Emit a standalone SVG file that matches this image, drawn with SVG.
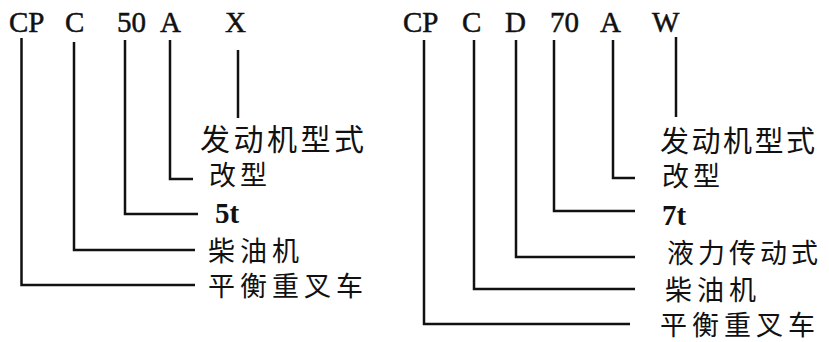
<svg xmlns="http://www.w3.org/2000/svg" width="829" height="342" viewBox="0 0 829 342">
<style>
.code{font-family:"Liberation Serif","Times New Roman",serif;font-size:29px;fill:#111;stroke:#111;stroke-width:0.5}
.unit{font-family:"Liberation Serif","Times New Roman",serif;font-size:29px;font-weight:bold;fill:#111}
.cn{font-family:"Noto Sans CJK SC","Noto Sans",sans-serif;font-size:27px;fill:#111;letter-spacing:5px}
.cnb{font-family:"Noto Sans CJK SC","Noto Sans",sans-serif;font-size:29px;fill:#111;letter-spacing:3px}
.ln{fill:none;stroke:#111;stroke-width:2.5}
</style>
<rect width="829" height="342" fill="#fff"/>
<g id="left-codes">
<g id="l-cp"><text class="code" x="9" y="32">CP</text></g>
<g id="l-c"><text class="code" x="65" y="32">C</text></g>
<g id="l-50"><text class="code" x="117" y="32">50</text></g>
<g id="l-a"><text class="code" x="160" y="32">A</text></g>
<g id="l-x"><text class="code" x="225" y="32">X</text></g>
</g>
<g id="left-labels">
<g id="l-engine"><text class="cnb" x="200" y="150" style="font-size:30px;letter-spacing:3.5px">发动机型式</text></g>
<g id="l-mod"><text class="cn" x="209" y="185" style="letter-spacing:4px">改型</text></g>
<g id="l-5t"><text class="unit" x="215" y="223">5t</text></g>
<g id="l-diesel"><text class="cn" x="208" y="261">柴油机</text></g>
<g id="l-truck"><text class="cn" x="208" y="296">平衡重叉车</text></g>
</g>
<g id="right-codes">
<g id="r-cp"><text class="code" x="403" y="32">CP</text></g>
<g id="r-c"><text class="code" x="462" y="32">C</text></g>
<g id="r-d"><text class="code" x="505" y="32">D</text></g>
<g id="r-70"><text class="code" x="550" y="32">70</text></g>
<g id="r-a"><text class="code" x="600" y="32">A</text></g>
<g id="r-w"><text class="code" x="652" y="32">W</text></g>
</g>
<g id="right-labels">
<g id="r-engine"><text class="cnb" x="660" y="152" style="letter-spacing:2.5px">发动机型式</text></g>
<g id="r-mod"><text class="cn" x="662" y="186" style="letter-spacing:4px">改型</text></g>
<g id="r-7t"><text class="unit" x="662" y="225">7t</text></g>
<g id="r-hydro"><text class="cn" x="667" y="263" style="letter-spacing:4px">液力传动式</text></g>
<g id="r-diesel"><text class="cn" x="665" y="300">柴油机</text></g>
<g id="r-truck"><text class="cn" x="660" y="335">平衡重叉车</text></g>
</g>
<g id="connectors">
<path class="ln" d="M21.5 38V285H195"/>
<path class="ln" d="M74 42V250H195"/>
<path class="ln" d="M125 40V214H198"/>
<path class="ln" d="M170 40V179H193"/>
<path class="ln" d="M238 50V118"/>
<path class="ln" d="M424 40V324H630"/>
<path class="ln" d="M474 40V289H635"/>
<path class="ln" d="M516 40V257H635"/>
<path class="ln" d="M554 40V211H635"/>
<path class="ln" d="M613 40V178H635"/>
<path class="ln" d="M676 37V117"/>
</g>
</svg>
